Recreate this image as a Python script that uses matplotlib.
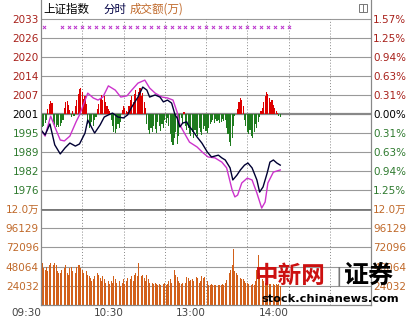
import numpy as np
import matplotlib.pyplot as plt
from matplotlib.patches import Rectangle

plt.rcParams['font.family'] = ['DejaVu Sans', 'Noto Sans CJK SC']

# 昨收 和 刻度
prev_close = 2001.3
step = 6.28
price_labels = ['2033', '2026', '2020', '2014', '2007', '2001', '1995', '1989', '1982', '1976']
pct_labels = ['1.57%', '1.25%', '0.94%', '0.63%', '0.31%', '0.00%', '0.31%', '0.63%', '0.94%', '1.25%']
vol_ticks = [24032, 48064, 72096, 96129, 120000]
vol_labels = ['24032', '48064', '72096', '96129', '12.0万']
time_ticks = [0, 60, 120, 180]
time_labels = ['09:30', '10:30', '13:00', '14:00']

# 上证指数 (分钟, 点位)
black_t = [0, 3, 6.5, 10, 14, 17.5, 21, 25, 28, 32, 34, 37, 39, 43, 46, 49, 52, 56, 60, 63,
           66, 70.5, 74, 77, 79, 83, 86.5, 89, 92, 95, 97.5, 99, 101, 103, 106, 107, 110,
           113.5, 117, 121, 124, 129, 131.5, 134, 137.5, 139.5, 142.5, 145, 148, 150.5,
           153.5, 157, 159, 161.5, 164.5, 166.5, 169, 171.5, 174]
black_p = [1996.0, 1994.4, 1998.0, 1991.1, 1988.1, 1990.1, 1991.7, 1990.7, 1991.4, 1995.0,
           1999.3, 1996.7, 1995.0, 1997.7, 2000.3, 2001.0, 2001.6, 2000.3, 2000.0, 2001.0,
           2003.6, 2006.9, 2010.2, 2009.2, 2006.9, 2007.6, 2006.9, 2005.3, 2005.9, 2004.9,
           2001.0, 2000.0, 1997.0, 1998.3, 1998.7, 1997.7, 1996.0, 1993.7, 1991.7, 1988.7,
           1987.1, 1987.7, 1986.8, 1986.1, 1983.5, 1979.5, 1981.1, 1982.8, 1984.4, 1985.1,
           1983.5, 1979.5, 1975.5, 1977.2, 1981.8, 1985.4, 1986.1, 1985.1, 1984.4]

# 不含加权指数
mag_t = [0, 3, 7, 11, 14, 17, 21, 25.5, 28, 31, 34, 38, 41.5, 45, 49, 54, 58, 62.5, 66,
         70.5, 75.5, 79, 83, 88, 92, 96, 99, 101, 105, 108, 113.5, 118, 121.5, 126.5,
         131.5, 135, 139, 141, 143, 146, 150, 153.5, 157, 160.5, 163, 165, 169, 174]
mag_p = [1996.0, 1994.0, 2000.6, 1996.0, 1992.7, 1992.4, 1994.0, 1998.7, 2001.0, 2004.6,
         2008.2, 2006.6, 2005.9, 2006.9, 2010.6, 2009.2, 2006.9, 2007.3, 2009.2, 2011.5,
         2012.5, 2009.9, 2008.2, 2006.9, 2006.6, 2005.9, 2001.9, 1997.7, 1994.4, 1992.0,
         1990.4, 1988.4, 1987.1, 1986.8, 1985.4, 1983.5, 1976.2, 1973.9, 1974.5, 1978.5,
         1980.1, 1979.5, 1975.2, 1970.2, 1972.2, 1978.5, 1982.1, 1982.8]

# 涨跌差 (每分钟)
breadth = [-11, -13, -12, -9, -6, 5, 10, 13, 11, -8, -12, -13, -11, -13, -12, -9, -6,
           6, 12, 13, 9, 4, -3, 3, -2, 8, 14, 20, 25, 26, 22, 15, 18, 10,
           -10, -14, -12, -8, -12, -6, -3, 5, 10, 16, 19, 14, 18, 12, 8, 5, 3,
           -6, -12, -18, -19, -15, -10, -14, -8, 4, 8, 6, 3, 2,
           8, 14, 18, 12, 20, 24, 16, 22, 26, 18, 21, 12, 6,
           -10, -16, -20, -14, -18, -12, -15, -19, -8, -12, -17, -10, -14, -6, -9, -4,
           -12, -20, -28, -31, -24, -18, -30, -22, -10, -4, -10, 2, -12, -16,
           -14, -20, -22, -18, -24, -16, -20, -22, -14, -18, -21, -15, -12, -17, -19, -14, -10,
           -8, -6, -9, -5, -7, -6, -9, -8, -5, -7, -6,
           -14, -20, -28, -32, -24, -12, -2, 0, 5, 12, 16, 14, 8,
           -6, -12, -18, -20, -16, -22, -24, -18, -10, -14, -8, -3,
           3, 6, 12, 18, 22, 20, 16, 12, 14, 9, 6, 3, 1, -2, -3]

# 成交额 (千)
volume_k = [110, 52, 46, 44, 48, 42, 50, 52, 54, 50, 52,
            50, 42, 40, 40, 44, 40, 46, 50, 40, 38,
            46, 48, 42, 36, 40, 48, 50, 50, 46, 44,
            40, 35, 42, 38, 36, 34, 30, 32, 36, 38,
            40, 38, 34, 30, 36, 32, 28, 34, 30, 26,
            30, 28, 36, 32, 28, 26, 30, 24, 28, 32,
            26, 30, 34, 28, 32, 36, 30, 38, 40, 36,
            52, 40, 36, 38, 34, 30, 38, 32, 28, 30,
            28, 26, 28, 26, 25, 26, 25, 25, 26, 28,
            25, 26, 30, 32, 28, 36, 44, 38, 35, 30,
            28, 26, 27, 25, 28, 35, 34, 30, 31, 32,
            30, 31, 35, 34, 28, 30, 36, 34, 35, 74,
            30, 25, 25, 26, 25, 25, 25, 26, 25, 25, 25, 26, 25, 27, 31,
            32, 40, 44, 50, 70,
            42, 40, 38, 36, 34, 33, 32, 30, 28, 27,
            26, 25, 25, 26, 25, 30, 44, 62,
            40, 36, 32, 30, 28, 29, 27, 26, 26, 25, 26, 25, 26, 25, 26, 24]

# 均线标记
marker_t = [2, 15, 20, 25, 30, 35, 40, 45, 50, 55, 60, 65, 70, 75, 80, 85, 90, 95, 100,
            105, 110, 115, 120, 125, 130, 135, 140, 145, 150, 155, 160, 165, 170, 175, 180]
marker_p = 2030.1

RED = '#a8201a'
GREEN = '#2e7a2e'
ORANGE = '#c0692a'
VOLC = '#d2601a'

W, H = 413, 319
fig = plt.figure(figsize=(W / 100, H / 100), dpi=100)

def box(x0, y0, x1, y1):
    return [x0 / W, 1 - y1 / H, (x1 - x0) / W, (y1 - y0) / H]

ax = fig.add_axes(box(41, 0, 371, 209))
axv = fig.add_axes(box(41, 209, 371, 305))

top = prev_close + 5 * step
ax.set_xlim(0, 240)
ax.set_ylim(prev_close - 5 * step, prev_close + 6 * step)

# 涨跌差柱
bt = np.arange(len(breadth))
bv = np.array(breadth) * step / 19
ax.bar(bt[bv > 0], bv[bv > 0], bottom=prev_close, width=0.75, color='#dd0000', zorder=2)
ax.bar(bt[bv < 0], bv[bv < 0], bottom=prev_close, width=0.75, color='#1e7b1e', zorder=2)

ax.plot(mag_t, mag_p, color='#cc33cc', lw=1.0, zorder=3)
ax.plot(black_t, black_p, color='#000033', lw=1.0, zorder=4)
ax.scatter(marker_t, [marker_p] * len(marker_t), marker='x', s=5, lw=0.7, color='#bb33cc', zorder=3)

grid_vals = [prev_close + k * step for k in range(5, -5, -1)]
for v in grid_vals:
    if abs(v - prev_close) < 1e-6:
        ax.axhline(v, color='#888888', lw=1.6, zorder=1)
    else:
        ax.axhline(v, color='#999999', lw=0.8, zorder=1)
ax.vlines([30, 60, 90, 120, 150, 180, 210], prev_close - 5 * step, top,
          colors='#888888', lw=0.7, linestyles=(0, (1, 2)), zorder=1)

ax.set_yticks(grid_vals)
ax.set_yticklabels(price_labels)
ax.set_xticks([])
ax.tick_params(axis='y', length=0, pad=1.5, labelsize=7.5)
for i, lab in enumerate(ax.get_yticklabels()):
    lab.set_color(RED if i < 5 else ('black' if i == 5 else GREEN))
axr = ax.twinx()
axr.set_ylim(ax.get_ylim())
axr.set_yticks(grid_vals)
axr.set_yticklabels(pct_labels)
axr.tick_params(axis='y', length=0, pad=1.5, labelsize=7.5)
for i, lab in enumerate(axr.get_yticklabels()):
    lab.set_color(RED if i < 5 else ('black' if i == 5 else GREEN))
for a in (ax, axr):
    a.spines['top'].set_visible(False)
    a.spines['bottom'].set_visible(False)
    a.spines['left'].set_color('#888888')
    a.spines['right'].set_color('#888888')

# 成交额
vt = np.arange(len(volume_k))
axv.bar(vt, np.array(volume_k) * 1000, width=0.7, color=VOLC, zorder=2)
axv.set_xlim(0, 240)
axv.set_ylim(0, 120000)
for v in vol_ticks[:-1]:
    axv.axhline(v, color='#999999', lw=0.8, zorder=1)
axv.axhline(120000, color='#777777', lw=2.0, zorder=3)
axv.vlines([30, 60, 90, 120, 150, 180, 210], 0, 120000,
           colors='#888888', lw=0.7, linestyles=(0, (1, 2)), zorder=1)
axv.set_yticks(vol_ticks)
axv.set_yticklabels(vol_labels)
axv.tick_params(axis='y', length=0, pad=1.5, labelsize=7.5, labelcolor=ORANGE)
axv.set_xticks(time_ticks)
axv.set_xticklabels(time_labels)
axv.tick_params(axis='x', length=0, pad=2, labelsize=7.5, labelcolor='#444444')
for lab in axv.get_xticklabels():
    lab.set_ha('right')
axvr = axv.twinx()
axvr.set_ylim(0, 120000)
axvr.set_yticks(vol_ticks)
axvr.set_yticklabels(vol_labels)
axvr.tick_params(axis='y', length=0, pad=1.5, labelsize=7.5, labelcolor=ORANGE)
for a in (axv, axvr):
    a.spines['top'].set_visible(False)
    for s in ('left', 'right', 'bottom'):
        a.spines[s].set_color('#888888')

# 标题
fig.text(43 / W, 1 - 9 / H, '上证指数', fontsize=8.3, color='black', va='center',
         family=['Noto Sans CJK SC'])
fig.text(103 / W, 1 - 9 / H, '分时', fontsize=8.3, color='#000044', va='center',
         family=['Noto Sans CJK SC'])
fig.text(130 / W, 1 - 9 / H, '成交额(万)', fontsize=8.3, color=ORANGE, va='center',
         family=['Noto Sans CJK SC'])
fig.patches.append(Rectangle((359 / W, 1 - 12 / H), 8 / W, 8 / H, transform=fig.transFigure,
                             fill=False, edgecolor='#777777', lw=0.7))
fig.lines.append(plt.Line2D([363 / W, 363 / W], [1 - 12 / H, 1 - 4 / H], transform=fig.transFigure,
                            color='#777777', lw=0.7))

# 水印
fig.text(255 / W, 1 - 276 / H, '中新网', fontsize=17, color='#cc1010', va='center',
         family=['Noto Sans CJK SC'], fontweight='bold', zorder=10)
fig.text(336 / W, 1 - 276 / H, '|', fontsize=14, color='#777777', va='center', zorder=10)
fig.text(344 / W, 1 - 276 / H, '证券', fontsize=18, color='black', va='center',
         family=['Noto Sans CJK SC'], fontweight='bold', zorder=10)
fig.text(330 / W, 1 - 299 / H, 'stock.chinanews.com', fontsize=8.2, color='black', va='center',
         ha='center', fontweight='bold', zorder=10)

fig.savefig('out.png', dpi=100)
